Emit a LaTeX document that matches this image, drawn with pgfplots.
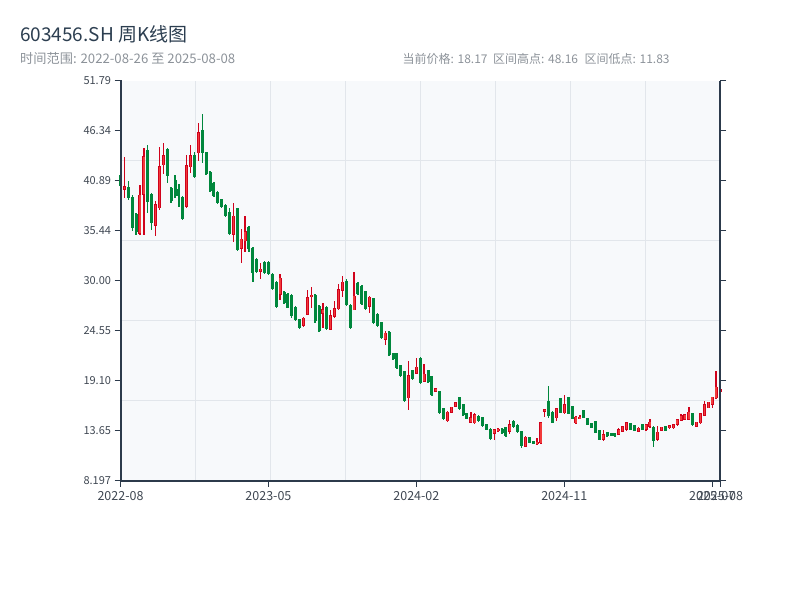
\documentclass[border=0pt]{standalone}
\usepackage{fontspec}
\setmainfont{Noto Sans CJK SC}
\usepackage{pgfplots}
\usepackage{pgfplotstable}
\pgfplotsset{compat=1.18}
\definecolor{upR}{HTML}{D0021B}
\definecolor{upF}{HTML}{F23A3A}
\definecolor{dnG}{HTML}{00873C}
\definecolor{spine}{HTML}{2C3A4B}
\definecolor{gridc}{HTML}{E2E6EB}
\definecolor{bgc}{HTML}{F7F9FB}
\definecolor{titlec}{HTML}{2C3E50}
\definecolor{subc}{HTML}{8C9299}
\definecolor{tickc}{HTML}{3F4752}

\pgfplotstableread{
i o h l c
1 39.9 43.5 39.0 40.35
5 35.1 40.5 35.0 39.4
6 39.4 44.45 35.0 43.6
9 36.0 38.7 34.9 38.4
10 37.9 44.6 37.7 42.5
11 42.6 45.0 41.7 43.7
17 38.1 43.7 37.9 42.6
18 42.4 44.8 41.8 43.7
20 43.9 47.25 43.1 46.2
29 35.0 38.5 34.2 37.1
31 33.5 35.7 32.0 34.6
32 34.3 37.1 33.2 35.4
36 31.0 32.0 30.25 31.35
41 28.5 30.8 27.9 30.35
47 25.1 26.1 25.0 26.0
48 26.3 29.0 26.3 28.2
49 28.2 29.3 27.0 28.5
52 26.4 27.6 24.9 26.9
54 24.7 26.8 24.6 26.3
55 26.1 27.8 26.0 27.0
56 26.9 29.7 26.8 29.1
57 28.9 30.5 28.2 29.9
60 26.8 31.0 26.8 28.4
64 27.2 28.4 26.5 28.3
68 23.6 24.55 23.0 24.35
74 17.2 21.3 15.9 19.75
76 19.9 21.6 19.9 20.66
78 19.0 20.95 19.0 19.9
81 17.9 18.3 17.85 18.3
84 14.7 15.8 14.66 15.75
85 15.6 16.3 15.6 16.3
86 16.3 16.84 16.3 16.8
90 14.55 15.75 14.5 15.14
91 14.5 15.6 14.4 15.5
96 13.32 13.9 12.7 13.83
97 13.6 13.93 13.5 13.9
100 13.57 14.84 13.3 14.41
104 11.94 13.1 11.94 13.03
107 12.2 12.9 12.1 12.49
108 12.3 14.6 12.25 14.59
109 15.75 16.05 15.21 16.05
112 15.03 16.12 14.7 16.12
114 15.57 17.57 15.5 16.55
117 14.48 15.3 14.4 15.21
118 14.96 15.4 14.9 15.2
124 12.67 13.76 12.6 13.28
128 13.21 13.99 13.21 13.86
129 13.58 14.19 13.5 14.19
130 13.76 14.59 13.7 14.59
133 13.58 14.12 13.5 14.01
135 13.76 14.37 13.7 14.37
136 14.12 14.95 14.0 14.66
138 12.67 14.19 12.6 13.57
139 13.68 14.12 13.6 14.12
141 13.94 14.3 13.9 14.3
142 13.94 14.37 13.9 14.37
143 14.3 14.92 14.2 14.92
144 14.74 15.5 14.7 15.39
145 14.84 15.46 14.8 15.46
146 14.84 16.23 14.8 15.75
148 14.12 14.66 14.1 14.66
149 14.48 15.6 14.4 15.57
150 15.32 16.92 15.3 16.55
151 16.12 16.84 16.1 16.84
152 16.48 17.39 16.2 17.39
153 17.21 20.19 17.1 18.48
154 17.95 19.6 17.9 18.17
}\upT

\pgfplotstableread{
i o h l c
0 41.5 41.6 40.2 40.3
2 40.2 40.9 38.8 39.0
3 39.2 39.4 35.4 35.8
4 37.3 37.4 35.0 35.3
7 44.3 44.8 37.4 38.6
8 39.5 39.6 35.6 36.3
12 44.4 44.5 40.7 41.4
13 40.1 40.2 38.5 38.7
14 41.0 41.5 39.0 39.3
15 40.0 40.6 38.1 39.3
16 39.2 39.3 36.6 36.8
19 43.7 44.1 41.2 41.3
21 46.5 48.16 42.8 43.9
22 44.0 44.1 41.5 41.6
23 41.9 42.0 39.7 39.8
24 40.7 40.75 39.2 39.3
25 39.7 39.75 38.4 38.5
26 38.9 38.95 37.9 38.1
27 38.3 38.4 37.0 37.1
28 37.5 38.0 35.0 35.1
30 37.9 37.95 33.3 33.4
33 35.9 36.0 33.2 33.5
34 33.6 33.7 29.9 30.9
35 32.4 32.5 30.9 31.0
37 32.1 32.2 30.8 30.9
38 32.1 32.2 30.7 30.8
39 30.8 30.85 29.0 29.1
40 29.9 29.95 27.0 27.2
42 28.8 28.85 27.5 27.6
43 28.6 28.65 27.0 27.1
44 28.5 28.6 26.0 26.2
45 27.2 27.3 25.6 25.7
46 25.8 25.85 24.8 24.9
50 28.5 28.55 25.45 25.6
51 27.3 27.4 24.4 24.5
53 27.2 27.3 24.7 24.8
58 30.0 30.2 27.3 27.4
59 27.4 27.5 24.8 24.9
61 29.8 29.85 28.5 28.6
62 29.5 29.56 27.4 27.5
63 28.9 28.9 26.8 26.9
65 28.1 28.1 25.3 25.4
66 26.4 26.5 25.0 25.1
67 25.5 25.56 23.7 23.8
69 24.4 24.5 21.8 21.9
70 22.1 22.1 21.4 21.5
71 22.2 22.2 20.4 20.5
72 20.8 20.85 19.5 19.6
73 20.2 20.2 16.8 16.9
75 20.3 20.3 19.2 19.3
77 21.6 21.7 18.8 18.9
79 20.3 20.3 18.9 19.0
80 19.6 19.65 17.5 17.6
82 18.0 18.0 15.5 15.6
83 16.1 16.1 14.8 14.9
87 17.4 17.4 15.9 16.0
88 16.6 16.6 15.3 15.4
89 15.6 15.64 14.9 15.0
92 15.3 15.4 14.6 14.7
93 15.2 15.2 14.1 14.2
94 14.4 14.4 13.75 13.8
95 13.9 13.93 12.66 12.8
98 13.9 14.0 13.3 13.4
99 14.1 14.12 13.0 13.1
101 14.77 14.8 14.0 14.05
102 14.3 14.37 13.46 13.58
103 13.65 13.7 11.83 12.0
105 12.96 12.96 12.3 12.35
106 12.56 12.6 12.2 12.25
110 16.9 18.55 15.1 15.3
111 15.75 15.8 14.48 14.5
113 17.2 17.21 15.57 15.6
115 17.3 17.32 15.5 15.55
116 16.37 16.4 14.96 15.0
119 15.94 15.94 15.03 15.05
120 15.03 15.03 14.3 14.35
121 14.55 14.55 13.94 14.0
122 14.74 14.74 13.39 13.45
123 13.76 13.76 12.67 12.7
125 13.5 13.5 13.03 13.05
126 13.4 13.45 13.1 13.15
127 13.39 13.39 13.03 13.05
131 14.48 14.48 13.76 13.8
132 14.3 14.3 13.68 13.7
134 14.37 14.37 13.76 13.8
137 14.1 14.2 11.87 12.6
140 14.19 14.19 13.68 13.7
147 15.57 15.57 14.23 14.3
}\dnT

\begin{document}
\begin{tikzpicture}
\useasboundingbox (0bp,0bp) rectangle (800bp,600bp);
\node[anchor=base west, inner sep=0, text=titlec, font=\fontsize{19bp}{21bp}\selectfont] at (20bp,558.5bp) {603456.SH 周K线图};
\node[anchor=base west, inner sep=0, text=subc, font=\fontsize{13.2bp}{15bp}\selectfont] at (20bp,536bp) {时间范围: 2022-08-26 至 2025-08-08};
\node[anchor=base west, inner sep=0, text=subc, font=\fontsize{12bp}{14bp}\selectfont] at (402.5bp,536bp) {当前价格: 18.17};
\node[anchor=base west, inner sep=0, text=subc, font=\fontsize{12bp}{14bp}\selectfont] at (493bp,536bp) {区间高点: 48.16};
\node[anchor=base west, inner sep=0, text=subc, font=\fontsize{12bp}{14bp}\selectfont] at (584.5bp,536bp) {区间低点: 11.83};
\begin{axis}[
  at={(120.5bp,119bp)}, anchor=south west,
  scale only axis, width=599.5bp, height=400bp,
  xmin=0, xmax=154, ymin=8.197, ymax=51.79,
  clip=false,
  axis background/.style={fill=bgc},
  axis x line=bottom, axis y line=box,
  every outer x axis line/.append style={-},
  every outer y axis line/.append style={-},
  axis line style={draw=spine, line width=1.6bp},
  tick align=outside,
  major tick length=6bp,
  every tick/.style={draw=spine, line width=1bp},
  xtick={0,38,76,114,152,154},
  xticklabels={2022-08,2023-05,2024-02,2024-11,2025-07,2025-08},
  ytick={8.197,13.646,19.095,24.544,29.994,35.443,40.892,46.341,51.79},
  yticklabels={8.197,13.65,19.10,24.55,30.00,35.44,40.89,46.34,51.79},
  yticklabel pos=left,
  extra x ticks={19.25,38.5,57.75,77,96.25,115.5,134.75},
  extra x tick labels={,,,,,,},
  extra x tick style={grid=major, major tick length=0pt},
  extra y ticks={16.9156,25.6342,34.3528,43.0714},
  extra y tick labels={,,,},
  extra y tick style={grid=major, major tick length=0pt},
  major grid style={draw=gridc, line width=1bp},
  /pgf/number format/assume math mode=true,
  yticklabel style={text=tickc, font=\fontsize{11bp}{12bp}\selectfont},
  xticklabel style={text=tickc, font=\fontsize{12.5bp}{14bp}\selectfont, yshift=-1bp},
]
% wicks
\addplot[forget plot, draw=none, mark=none,
  error bars/.cd, y dir=both, y explicit, error mark=none,
  error bar style={draw=dnG, line width=1.3bp}]
  table[x=i, y expr={(\thisrow{h}+\thisrow{l})/2}, y error expr={(\thisrow{h}-\thisrow{l})/2}] {\dnT};
\addplot[forget plot, draw=none, mark=none,
  error bars/.cd, y dir=both, y explicit, error mark=none,
  error bar style={draw=upR, line width=1.3bp}]
  table[x=i, y expr={(\thisrow{h}+\thisrow{l})/2}, y error expr={(\thisrow{h}-\thisrow{l})/2}] {\upT};
% bodies
\addplot[forget plot, draw=none, mark=none,
  error bars/.cd, y dir=both, y explicit, error mark=none,
  error bar style={draw=dnG, line width=3bp}]
  table[x=i, y expr={(\thisrow{o}+\thisrow{c})/2}, y error expr={max(abs(\thisrow{o}-\thisrow{c})/2,0.06)}] {\dnT};
\addplot[forget plot, draw=none, mark=none,
  error bars/.cd, y dir=both, y explicit, error mark=none,
  error bar style={draw=upR, line width=3bp}]
  table[x=i, y expr={(\thisrow{o}+\thisrow{c})/2}, y error expr={max(abs(\thisrow{o}-\thisrow{c})/2,0.06)}] {\upT};
\addplot[forget plot, draw=none, mark=none,
  error bars/.cd, y dir=both, y explicit, error mark=none,
  error bar style={draw=upF, line width=1.5bp}]
  table[x=i, y expr={(\thisrow{o}+\thisrow{c})/2}, y error expr={max(abs(\thisrow{o}-\thisrow{c})/2-0.07,0)}] {\upT};
% spines on top
\draw[spine, line width=2bp, line cap=rect] (axis description cs:0,1) -- (axis description cs:0,0) -- (axis description cs:1,0);
\draw[spine, line width=1.5bp] (axis description cs:1,0) -- (axis description cs:1,1);
\end{axis}
\end{tikzpicture}
\end{document}
